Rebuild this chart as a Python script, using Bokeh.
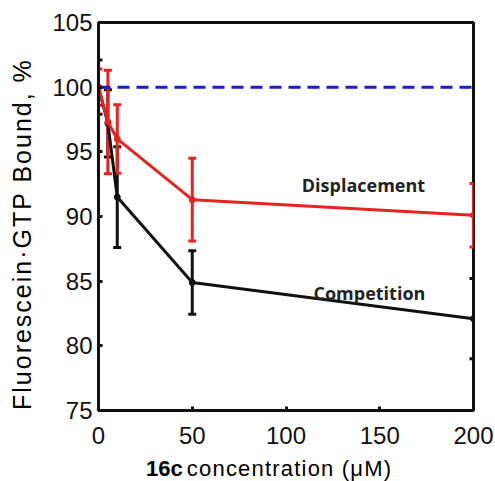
from bokeh.plotting import figure
from bokeh.models import ColumnDataSource, Whisker, TeeHead, Label, Range1d, FixedTicker, Div
from bokeh.layouts import row, column
from bokeh.embed import file_html
from bokeh.resources import INLINE

# ---- data ----
conc = [0, 5, 10, 50, 200]
competition = [100.0, 97.2, 91.5, 84.9, 82.1]
competition_err = [2.1, 2.6, 3.9, 2.45, 3.1]
displacement = [100.0, 97.3, 96.0, 91.3, 90.1]
displacement_err = [1.4, 4.0, 2.65, 3.2, 2.45]
baseline_x = [0, 200]
baseline_y = [100, 100]
x_ticks = [0, 50, 100, 150, 200]
y_ticks = [75, 80, 85, 90, 95, 100, 105]
y_title = "Fluorescein\u00b7GTP Bound, %"
x_title_bold = "16c"
x_title_rest = "concentration (\u03bcM)"

BLACK = "#111111"
RED = "#e5231f"
BLUE = "#1c1cc8"
FONT = "Liberation Sans"

p = figure(width=455, height=456, output_backend="svg", toolbar_location=None,
           x_range=Range1d(0, 200), y_range=Range1d(75, 105),
           min_border_left=58, min_border_right=22, min_border_top=22, min_border_bottom=46)
p.background_fill_color = "white"
p.border_fill_color = "white"
p.grid.visible = False
p.outline_line_color = BLACK
p.outline_line_width = 3

for ax in (p.xaxis[0], p.yaxis[0]):
    ax.axis_line_color = BLACK
    ax.axis_line_width = 3
    ax.major_tick_in = 4
    ax.major_tick_out = 0
    ax.major_tick_line_width = 3
    ax.major_tick_line_color = BLACK
    ax.minor_tick_line_color = None
    ax.major_label_text_font = FONT
    ax.major_label_text_font_size = "24px"
    ax.major_label_text_color = BLACK
p.xaxis.ticker = FixedTicker(ticks=x_ticks)
p.yaxis.ticker = FixedTicker(ticks=y_ticks)
p.xaxis.major_label_standoff = 16
p.yaxis.major_label_standoff = 6

comp_src = ColumnDataSource(dict(
    x=conc, y=competition,
    upper=[v + e for v, e in zip(competition, competition_err)],
    lower=[v - e for v, e in zip(competition, competition_err)]))
disp_src = ColumnDataSource(dict(
    x=conc, y=displacement,
    upper=[v + e for v, e in zip(displacement, displacement_err)],
    lower=[v - e for v, e in zip(displacement, displacement_err)]))

# competition (black)
p.add_layout(Whisker(source=comp_src, base="x", upper="upper", lower="lower",
                     line_color=BLACK, line_width=3,
                     upper_head=TeeHead(size=8, line_color=BLACK, line_width=3),
                     lower_head=TeeHead(size=8, line_color=BLACK, line_width=3)))
p.line("x", "y", source=comp_src, line_color=BLACK, line_width=3)
p.scatter("x", "y", source=comp_src, size=6, color=BLACK)

# baseline (blue dashed)
p.line(baseline_x, baseline_y, line_color=BLUE, line_width=3, line_dash="12 7")

# displacement (red)
p.add_layout(Whisker(source=disp_src, base="x", upper="upper", lower="lower",
                     line_color=RED, line_width=3,
                     upper_head=TeeHead(size=8, line_color=RED, line_width=3),
                     lower_head=TeeHead(size=8, line_color=RED, line_width=3)))
p.line("x", "y", source=disp_src, line_color=RED, line_width=3)
p.scatter("x", "y", source=disp_src, size=6, color=RED)

# series labels
p.add_layout(Label(x=141.3, y=92.4, text="Displacement", text_align="center",
                   text_baseline="middle", text_font="Open Sans", text_font_style="bold",
                   text_font_size="18px", text_color="#222222"))
p.add_layout(Label(x=144.5, y=84.06, text="Competition", text_align="center",
                   text_baseline="middle", text_font="Open Sans", text_font_style="bold",
                   text_font_size="18px", text_color="#222222"))

# axis titles as HTML text
ydiv = Div(text=y_title, width=40, height=481, margin=0,
           styles={"writing-mode": "vertical-rl", "transform": "rotate(180deg)",
                   "font-family": FONT, "font-size": "25px", "letter-spacing": "2px",
                   "line-height": "30px", "padding-top": "71px", "padding-right": "7px",
                   "color": "black", "white-space": "nowrap", "box-sizing": "border-box"})
xdiv = Div(text=f'<b style="margin-right:-2px">{x_title_bold}</b> '
                f'<span style="letter-spacing:1.2px">{x_title_rest}</span>',
           width=455, height=25, margin=0,
           styles={"font-family": FONT, "font-size": "22px", "line-height": "25px",
                   "padding-left": "106px", "color": "black", "white-space": "nowrap",
                   "box-sizing": "border-box"})

layout = row(ydiv, column(p, xdiv, spacing=0), spacing=0)
open("out.html", "w").write(file_html(layout, INLINE))
